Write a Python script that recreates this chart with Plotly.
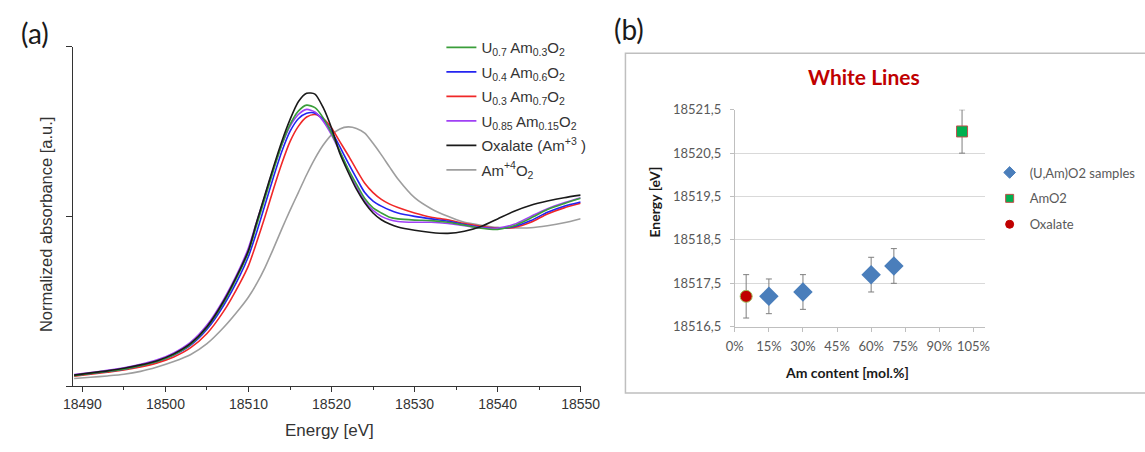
import plotly.graph_objects as go

W, H = 1145, 452

# ---------------- Panel (a): XANES spectra ----------------
energy = [18489, 18491, 18493, 18495, 18497, 18499, 18501, 18503, 18505, 18507,
          18509, 18510, 18511, 18512, 18513, 18514, 18515, 18516, 18517, 18518,
          18519, 18520, 18521, 18522, 18523, 18524, 18525, 18526, 18527, 18528,
          18530, 18532, 18534, 18536, 18538, 18540, 18542, 18544, 18546, 18548, 18550]

u07_am03 = [0.062, 0.075, 0.087, 0.100, 0.120, 0.145, 0.185, 0.245, 0.345, 0.490,
            0.680, 0.790, 0.950, 1.110, 1.270, 1.420, 1.540, 1.620, 1.655, 1.640,
            1.580, 1.490, 1.385, 1.280, 1.190, 1.105, 1.050, 1.020, 0.995, 0.985,
            0.978, 0.975, 0.965, 0.948, 0.930, 0.923, 0.945, 0.990, 1.040, 1.075, 1.106]

u04_am06 = [0.063, 0.075, 0.087, 0.100, 0.120, 0.145, 0.183, 0.240, 0.335, 0.475,
            0.655, 0.765, 0.910, 1.070, 1.230, 1.380, 1.500, 1.575, 1.607, 1.608,
            1.570, 1.500, 1.410, 1.315, 1.225, 1.140, 1.090, 1.060, 1.037, 1.020,
            1.000, 0.985, 0.972, 0.952, 0.936, 0.928, 0.940, 0.975, 1.024, 1.060, 1.085]

u03_am07 = [0.058, 0.070, 0.082, 0.095, 0.113, 0.137, 0.172, 0.225, 0.310, 0.440,
            0.610, 0.710, 0.850, 1.000, 1.160, 1.310, 1.440, 1.530, 1.585, 1.600,
            1.575, 1.520, 1.440, 1.360, 1.275, 1.195, 1.140, 1.100, 1.072, 1.052,
            1.020, 0.995, 0.980, 0.958, 0.942, 0.930, 0.935, 0.965, 1.014, 1.050, 1.077]

u085_am015 = [0.068, 0.080, 0.093, 0.108, 0.128, 0.155, 0.196, 0.258, 0.360, 0.510,
              0.700, 0.815, 0.970, 1.125, 1.280, 1.420, 1.530, 1.600, 1.630, 1.615,
              1.560, 1.480, 1.380, 1.275, 1.175, 1.090, 1.035, 1.000, 0.980, 0.970,
              0.965, 0.965, 0.958, 0.945, 0.932, 0.930, 0.953, 1.000, 1.045, 1.080, 1.110]

oxalate = [0.065, 0.078, 0.090, 0.105, 0.125, 0.150, 0.190, 0.250, 0.350, 0.500,
           0.690, 0.800, 0.970, 1.130, 1.290, 1.440, 1.570, 1.675, 1.725, 1.720,
           1.640, 1.520, 1.370, 1.260, 1.160, 1.080, 1.020, 0.980, 0.955, 0.937,
           0.918, 0.905, 0.900, 0.912, 0.940, 0.985, 1.030, 1.065, 1.090, 1.110, 1.125]

amo2_ref = [0.045, 0.052, 0.060, 0.070, 0.087, 0.113, 0.145, 0.185, 0.250, 0.345,
            0.460, 0.525, 0.605, 0.700, 0.810, 0.925, 1.035, 1.140, 1.245, 1.340,
            1.420, 1.480, 1.515, 1.527, 1.518, 1.490, 1.430, 1.362, 1.290, 1.220,
            1.110, 1.045, 1.000, 0.965, 0.948, 0.935, 0.932, 0.933, 0.945, 0.962, 0.986]

energy_ticks = [18490, 18500, 18510, 18520, 18530, 18540, 18550]
energy_ticktext = ["18490", "18500", "18510", "18520", "18530", "18540", "18550"]

# ---------------- Panel (b): white lines ----------------
sample_x = [0.15, 0.30, 0.60, 0.70]
sample_y = [18517.2, 18517.3, 18517.7, 18517.9]
sample_err = [0.4, 0.4, 0.4, 0.4]

amo2_x = [1.00]
amo2_y = [18521.0]
amo2_err = [0.5]

oxal_x = [0.05]
oxal_y = [18517.2]
oxal_err = [0.5]

am_ticks = [0, 0.15, 0.30, 0.45, 0.60, 0.75, 0.90, 1.05]
am_ticktext = ["0%", "15%", "30%", "45%", "60%", "75%", "90%", "105%"]
wl_ticks = [18516.5, 18517.5, 18518.5, 18519.5, 18520.5, 18521.5]
wl_ticktext = ["18516,5", "18517,5", "18518,5", "18519,5", "18520,5", "18521,5"]


def fx(px):
    return px / W


def fy(py):
    return 1 - py / H


fig = go.Figure()

spectra = [
    ("Am<sup>+4</sup>O<sub>2</sub>", amo2_ref, "#9E9E9E", 6),
    ("U<sub>0.3</sub> Am<sub>0.7</sub>O<sub>2</sub>", u03_am07, "#F02828", 3),
    ("U<sub>0.4</sub> Am<sub>0.6</sub>O<sub>2</sub>", u04_am06, "#2424F0", 2),
    ("U<sub>0.85</sub> Am<sub>0.15</sub>O<sub>2</sub>", u085_am015, "#A040F5", 4),
    ("U<sub>0.7</sub> Am<sub>0.3</sub>O<sub>2</sub>", u07_am03, "#3A9E3A", 1),
    ("Oxalate (Am<sup>+3</sup> )", oxalate, "#1A1A1A", 5),
]
for name, vals, col, rank in spectra:
    fig.add_trace(go.Scatter(
        x=energy, y=vals, mode="lines", name=name,
        line=dict(color=col, width=1.6, shape="spline", smoothing=0.7),
        xaxis="x", yaxis="y", legend="legend", legendrank=rank,
        legendgroup=f"a{rank}",
    ))

err_style = dict(type="data", visible=True, color="#7F7F7F", thickness=1, width=3)

fig.add_trace(go.Scatter(
    x=sample_x, y=sample_y, mode="markers", name="(U,Am)O2 samples",
    marker=dict(symbol="diamond", size=15, color="#4A7EBB"),
    error_y=dict(array=sample_err, **err_style),
    xaxis="x2", yaxis="y2", showlegend=False,
))
fig.add_trace(go.Scatter(
    x=amo2_x, y=amo2_y, mode="markers", name="AmO2",
    marker=dict(symbol="square", size=11, color="#00B050",
                line=dict(color="#C0504D", width=1)),
    error_y=dict(array=amo2_err, **err_style),
    xaxis="x2", yaxis="y2", showlegend=False,
))
fig.add_trace(go.Scatter(
    x=oxal_x, y=oxal_y, mode="markers", name="Oxalate",
    marker=dict(symbol="circle", size=12, color="#C00000",
                line=dict(color="#9BBB59", width=1)),
    error_y=dict(array=oxal_err, **err_style),
    xaxis="x2", yaxis="y2", showlegend=False,
))
# legend entries for panel (b) (smaller symbols as in the original)
for name, sym, col, lc, sz, rank in [
    ("(U,Am)O2 samples", "diamond", "#4A7EBB", "#4A7EBB", 9, 1),
    ("AmO2", "square", "#00B050", "#C0504D", 8, 2),
    ("Oxalate", "circle", "#C00000", "#C00000", 8, 3),
]:
    fig.add_trace(go.Scatter(
        x=[None], y=[None], mode="markers", name=name,
        marker=dict(symbol=sym, size=sz, color=col, line=dict(color=lc, width=1)),
        xaxis="x2", yaxis="y2", legend="legend2", legendrank=rank,
        legendgroup=f"b{rank}",
    ))

axis_a = dict(showline=True, linecolor="#333333", linewidth=1.4, showgrid=False,
              zeroline=False, ticks="outside", tickcolor="#333333", tickwidth=1.3)
axis_b = dict(showline=True, linecolor="#BFBFBF", linewidth=1, zeroline=False,
              ticks="outside", tickcolor="#BFBFBF", tickwidth=1, ticklen=4,
              tickfont=dict(family="Lato", size=13, color="#595959"))


def note(text, px, py, size, color, family=None, angle=0):
    f = dict(size=size, color=color)
    if family:
        f["family"] = family
    return dict(text=text, x=fx(px), y=fy(py), xref="paper", yref="paper",
                xanchor="center", yanchor="middle", showarrow=False,
                textangle=angle, font=f)


fig.update_layout(
    width=W, height=H,
    margin=dict(l=0, r=0, t=0, b=0),
    paper_bgcolor="white", plot_bgcolor="white",
    font=dict(family="Liberation Sans, Arial, sans-serif", color="#333333"),
    xaxis=dict(domain=[fx(65), fx(586)], range=[18488.9, 18550],
               tickmode="array", tickvals=energy_ticks, ticktext=energy_ticktext,
               ticklen=5, tickfont=dict(size=14, color="#333333"),
               minor=dict(tickmode="linear", tick0=18495, dtick=10, ticks="outside",
                          ticklen=3, tickcolor="#333333", tickwidth=1.3),
               anchor="y", **axis_a),
    yaxis=dict(domain=[fy(392), fy(40)], range=[0, 2],
               tickmode="array", tickvals=[0, 1, 2], showticklabels=False,
               ticklen=6, anchor="x", **axis_a),
    xaxis2=dict(domain=[fx(744.3), fx(1001)], range=[0, 1.1],
                tickmode="array", tickvals=am_ticks, ticktext=am_ticktext,
                showgrid=False, anchor="y2", ticklabelstandoff=4, **axis_b),
    yaxis2=dict(domain=[fy(330.4), fy(105.5)], range=[18516.5, 18521.5],
                tickmode="array", tickvals=wl_ticks, ticktext=wl_ticktext,
                showgrid=True, gridcolor="#D9D9D9", gridwidth=1, anchor="x2",
                ticklabelstandoff=6, **axis_b),
    legend=dict(x=fx(443), y=fy(24), xanchor="left", yanchor="top",
                bgcolor="rgba(0,0,0,0)", font=dict(size=15, color="#333333"),
                tracegroupgap=2, itemwidth=30),
    legend2=dict(x=fx(1006), y=fy(155), xanchor="left", yanchor="top",
                 bgcolor="rgba(0,0,0,0)",
                 font=dict(family="Lato", size=13, color="#595959"),
                 tracegroupgap=6, itemwidth=30),
    shapes=[
        dict(type="rect", xref="paper", yref="paper",
             x0=fx(632), x1=fx(1170), y0=fy(399), y1=fy(47),
             line=dict(color="#BFBFBF", width=1.5), fillcolor="rgba(0,0,0,0)",
             layer="below"),
    ],
    annotations=[
        note("(a)", 26, 26, 28, "#1A1A1A", "Lato"),
        note("(b)", 636, 22, 28, "#1A1A1A", "Lato"),
        note("Normalized absorbance [a.u.]", 37, 224, 16.5, "#333333", angle=-90),
        note("Energy [eV]", 328, 438, 17, "#333333"),
        note("<b>White Lines</b>", 877, 71, 21, "#C00000", "Lato"),
        note("<b>Energy [eV]</b>", 662, 201, 14, "#1A1A1A", "Lato", angle=-90),
        note("<b>Am content [mol.%]</b>", 860, 378, 14, "#1A1A1A", "Lato"),
    ],
)

fig.write_html("out.html", config={"displayModeBar": False},
               post_script="document.body.style.margin='0';document.body.style.padding='0';")
